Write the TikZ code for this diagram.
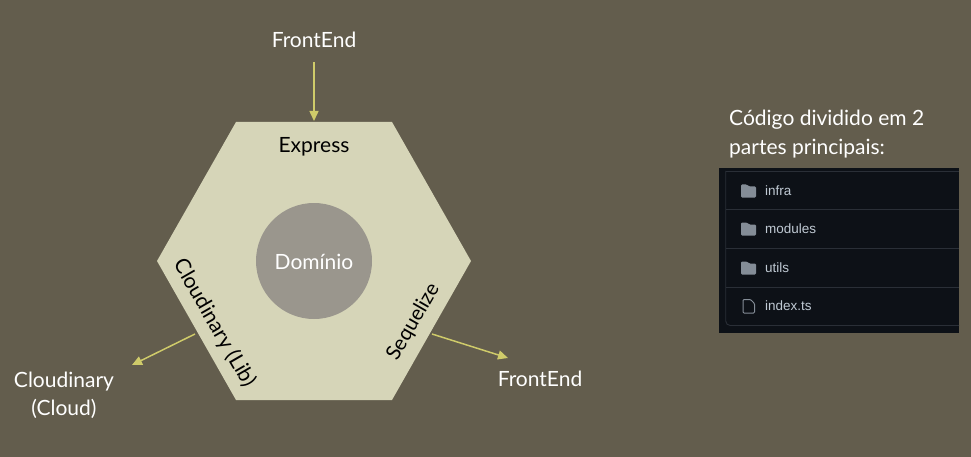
\documentclass[tikz,border=0pt]{standalone}
\usepackage{fontspec}
\setmainfont{Lato}
\newfontfamily\ghfont{Liberation Sans}
\usetikzlibrary{arrows.meta}
\definecolor{bgc}{HTML}{635D4D}
\definecolor{hexc}{HTML}{D6D5B8}
\definecolor{circc}{HTML}{9A968D}
\definecolor{arrc}{HTML}{CFCB6A}
\definecolor{panelc}{HTML}{0D1117}
\definecolor{linec}{HTML}{2A2F37}
\definecolor{iconc}{HTML}{848D97}
\definecolor{ghtext}{HTML}{C0CAD4}
\tikzset{
  lbl/.style={font=\fontsize{21}{28}\selectfont,inner sep=0pt,align=center},
  wlbl/.style={lbl,text=white},
  klbl/.style={lbl,text=black},
  arr/.style={draw=arrc,line width=1.5pt,-{Triangle[length=10pt,width=9pt]}},
  rowtxt/.style={font=\ghfont\fontsize{13.5}{16}\selectfont,text=ghtext,anchor=west,inner sep=0pt},
  rowline/.style={draw=linec,line width=0.9pt},
  folder/.style={fill=iconc,draw=none}
}
\begin{document}
\begin{tikzpicture}[x=1pt,y=-1pt]
\useasboundingbox (0,0) rectangle (971,457);
\fill[bgc] (0,0) rectangle (971,457);
\fill[hexc] (236,122) -- (392,122) -- (471,261) -- (392,400) -- (236,400) -- (157,261) -- cycle;
\node[circle,fill=circc,minimum size=116pt,inner sep=0pt] (dom) at (314,261) {};
\node[wlbl] (domt) at (314,262) {Domínio};
\node[klbl] (express) at (314,147) {Express};
\node[klbl,rotate=-60] (cloudlib) at (214.5,323) {Cloudinary (Lib)};
\node[klbl,rotate=60,font=\fontsize{20.5}{28}\selectfont] (seq) at (413.5,322) {Sequelize};
\node[wlbl] (fe1) at (314,40) {FrontEnd};
\node[wlbl] (fe2) at (540,379) {FrontEnd};
\node[wlbl] (cloud) at (64,395) {Cloudinary\\(Cloud)};
\coordinate (a1s) at (314,62);
\coordinate (a1e) at (314,121);
\coordinate (a2s) at (195,334);
\coordinate (a2e) at (132,365);
\coordinate (a3s) at (432,334);
\coordinate (a3e) at (508,358);
\draw[arr] (a1s) -- (a1e);
\draw[arr] (a2s) -- (a2e);
\draw[arr] (a3s) -- (a3e);
\node[wlbl,align=left,anchor=north west,font=\fontsize{21}{29}\selectfont] (title) at (729,110) {Código dividido em 2\\partes principais:};
% panel
\fill[panelc] (719,168) rectangle (959,332.5);
\draw[rowline] (959,171) -- (725.7,171);
\draw[rowline,rounded corners=4.5pt] (725.7,171) -- (725.7,325.5) -- (959,325.5);
\draw[rowline] (725.7,209.5) -- (959,209.5);
\draw[rowline] (725.7,248) -- (959,248);
\draw[rowline] (725.7,287) -- (959,287);
\foreach \yy/\nm in {191/infra,229/modules,268/utils}{
  \fill[folder,rounded corners=1.2pt] (741,\yy-6.5) -- (747,\yy-6.5) -- (749,\yy-4.5) -- (756,\yy-4.5) -- (756,\yy+6.5) -- (741,\yy+6.5) -- cycle;
  \node[rowtxt] (row\nm) at (765,\yy) {\nm};
}
\draw[iconc,line width=1pt,line join=round,rounded corners=1pt] (743,299.5) -- (750.5,299.5) -- (754.5,303.5) -- (754.5,313) -- (743,313) -- cycle;
\node[rowtxt] (rowindex) at (765,306) {index.ts};
\end{tikzpicture}
\end{document}
